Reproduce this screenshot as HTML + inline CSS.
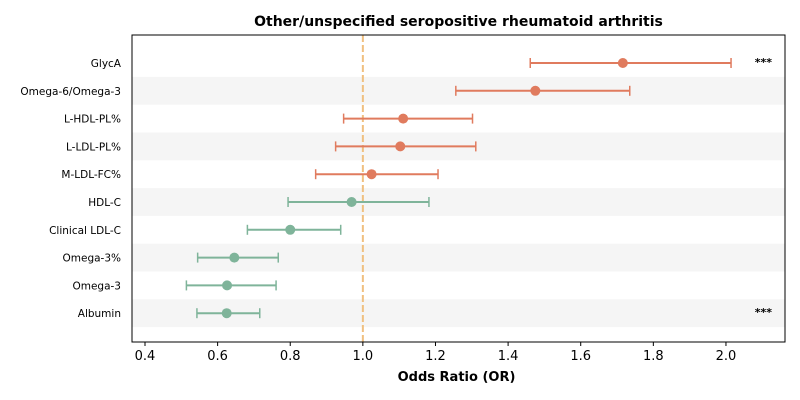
<!DOCTYPE html>
<html><head><meta charset="utf-8"><style>
body{margin:0;background:#fff;}
svg{display:block;font-family:"DejaVu Sans","Liberation Sans",sans-serif;}
</style></head><body>
<svg id="c" width="800" height="400"></svg>
<script>
const labels=["GlycA","Omega-6/Omega-3","L-HDL-PL%","L-LDL-PL%","M-LDL-FC%","HDL-C","Clinical LDL-C","Omega-3%","Omega-3","Albumin"];
const orValues=[1.716,1.475,1.111,1.103,1.024,0.969,0.80,0.646,0.626,0.625];
const ciLow=[1.461,1.256,0.947,0.925,0.870,0.794,0.682,0.545,0.514,0.543];
const ciHigh=[2.014,1.735,1.302,1.311,1.207,1.182,0.939,0.767,0.761,0.716];
const stars=["***","","","","","","","","","***"];
const ticks=[0.4,0.6,0.8,1.0,1.2,1.4,1.6,1.8,2.0];
const NS="http://www.w3.org/2000/svg";
const svg=document.getElementById('c');
const L=132,R=785,T=35,B=342;
const xs=v=>145+(v-0.4)*363.1;
const ys=i=>63+i*27.8;
function mk(t,a,p){const e=document.createElementNS(NS,t);for(const k in a)e.setAttribute(k,a[k]);(p||svg).appendChild(e);return e;}
labels.forEach((l,i)=>{
  if(i%2===1){const b=mk('rect',{x:L,y:ys(i)-13.9,width:R-L,height:27.8,fill:'#f5f5f5'});
  
  }
});
const ref=mk('line',{x1:xs(1),x2:xs(1),y1:T,y2:B,stroke:'#f0c080','stroke-width':2,'stroke-dasharray':'7,3'});


labels.forEach((l,i)=>{
  const c=orValues[i]>=1?'#e07b5e':'#7fb49a';
  const y=ys(i);
  const g=mk('g',{});
  
  
  mk('line',{x1:xs(ciLow[i]),x2:xs(ciHigh[i]),y1:y,y2:y,stroke:c,'stroke-width':2},g);
  mk('line',{x1:xs(ciLow[i]),x2:xs(ciLow[i]),y1:y-5,y2:y+5,stroke:c,'stroke-width':1.5},g);
  mk('line',{x1:xs(ciHigh[i]),x2:xs(ciHigh[i]),y1:y-5,y2:y+5,stroke:c,'stroke-width':1.5},g);
  mk('circle',{cx:xs(orValues[i]),cy:y,r:5,fill:c},g);
  const t=mk('text',{x:121,y:y+4,'text-anchor':'end','font-size':10.5,fill:'#000'});t.textContent=l;
  
  
  if(stars[i]){const s=mk('text',{x:772,y:y+3,'text-anchor':'end','font-size':11,'font-weight':'bold',fill:'#000'});s.textContent=stars[i];
  
  }
});
const fr=mk('rect',{x:L,y:T,width:R-L,height:B-T,fill:'none',stroke:'#000','stroke-width':1});


ticks.forEach(v=>{
  mk('line',{x1:xs(v),x2:xs(v),y1:B,y2:B+4,stroke:'#000'});
  const t=mk('text',{x:xs(v),y:B+18,'text-anchor':'middle','font-size':13,fill:'#000'});t.textContent=v.toFixed(1);
  
  
});
const xt=mk('text',{x:(L+R)/2-2,y:381,'text-anchor':'middle','font-size':13,'font-weight':'bold'});xt.textContent='Odds Ratio (OR)';


const ti=mk('text',{x:(L+R)/2,y:26,'text-anchor':'middle','font-size':14,'font-weight':'bold'});ti.textContent='Other/unspecified seropositive rheumatoid arthritis';


</script>
</body></html>
